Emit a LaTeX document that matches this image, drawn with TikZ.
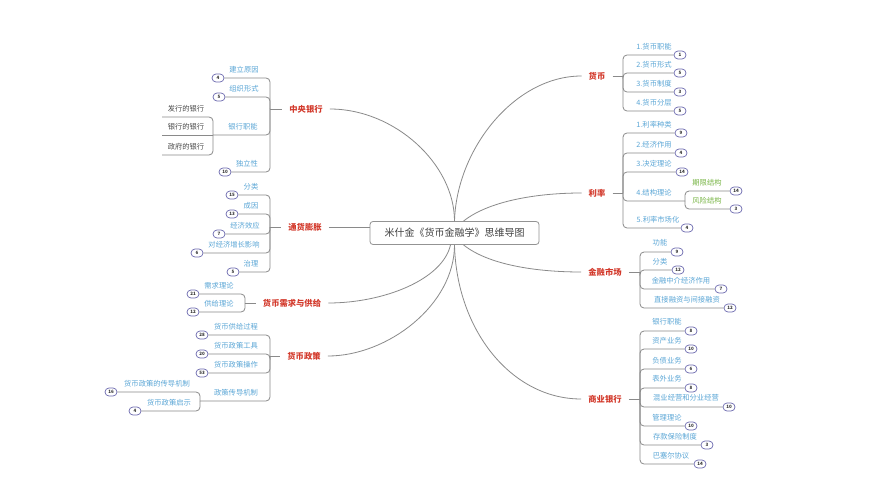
\documentclass[tikz,border=0pt]{standalone}
\usepackage{fontspec}
\setmainfont{Noto Sans CJK SC}
\usepackage{xcolor}
\usepackage{tikz}
\usetikzlibrary{positioning, calc}

\definecolor{topicred}{HTML}{D33A2C}
\definecolor{leafblue}{HTML}{5AA6D6}
\definecolor{leafgreen}{HTML}{78B545}
\definecolor{linegray}{HTML}{8A8A8A}
\definecolor{badgeline}{HTML}{6A68AE}

\begin{document}
\begin{tikzpicture}[
        x=1pt, y=-1pt,
        rootbox/.style={rectangle, rounded corners=3pt, draw=gray!85, line width=0.8pt, minimum width=169pt, minimum height=23pt, fill=white, font=\fontsize{10}{12}\selectfont, text=black!75},
        topic/.style={font=\fontsize{8.3}{10}\selectfont\bfseries, text=topicred, inner xsep=7pt, inner ysep=2pt},
        leaf/.style={font=\fontsize{7.3}{9}\selectfont, text=leafblue, inner sep=1pt},
        subleaf/.style={leaf, text=black!70},
        greenleaf/.style={leaf, text=leafgreen},
        badge/.style={rectangle, rounded corners=4pt, draw=badgeline, line width=0.7pt, fill=white, minimum width=12pt, minimum height=8pt, inner sep=0pt, font=\fontsize{4.5}{5}\selectfont\bfseries, text=black!80},
        trunk/.style={draw=linegray, line width=0.8pt},
        branch/.style={draw=linegray, line width=0.8pt, rounded corners=4pt}
    ]
        \useasboundingbox (0,0) rectangle (874,500);
        \fill [white] (0,0) rectangle (874,500);

        % ===== 中心主题 =====
        \node (root) [rootbox] at (454.5,233) {米什金《货币金融学》思维导图};
        \coordinate (rootTopR) at ($(root.north)+(9,0)$);
        \coordinate (rootBotR) at ($(root.south)+(9,0)$);
        \coordinate (rootBotL) at ($(root.south)+(-4,0)$);

        % ===== 一级主题 =====
        \node (cb) [topic] at (306,109) {中央银行};
        \node (infl) [topic] at (305,227) {通货膨胀};
        \node (mds) [topic] at (292,303) {货币需求与供给};
        \node (mp) [topic] at (304,356) {货币政策};
        \node (money) [topic] at (597,76) {货币};
        \node (rate) [topic] at (597,193) {利率};
        \node (fm) [topic] at (605,272) {金融市场};
        \node (bank) [topic] at (605,399) {商业银行};

        % 主干曲线
        \draw [trunk] (root.north) .. controls +(0,-57) and +(65,0) .. (cb.east);
        \draw [trunk] (infl.east) -- (infl.east -| root.west);
        \draw [trunk] (rootBotL) .. controls +(-8,35) and +(55,0) .. (mds.east);
        \draw [trunk] (root.south) .. controls +(0,60) and +(60,0) .. (mp.east);
        \draw [trunk] (root.north) .. controls +(2,-72) and +(-67,0) .. (money.west);
        \draw [trunk] (rootTopR) .. controls +(25,-20) and +(-45,0) .. (rate.west);
        \draw [trunk] (rootBotR) .. controls +(25,20) and +(-45,0) .. (fm.west);
        \draw [trunk] (root.south) .. controls +(2,85) and +(-70,0) .. (bank.west);

        % ===== 中央银行 =====
        \coordinate (cbHub) at (270,109);
        \draw [branch] (cbHub) -- (cb.west);
        \node (cbReason) [leaf] at (244,70) {建立原因};
        \node (cbReasonNum) [badge] at (218,78) {4};
        \node (cbForm) [leaf] at (244,89) {组织形式};
        \node (cbFormNum) [badge] at (219,97) {5};
        \node (cbRole) [leaf] at (243,127) {银行职能};
        \node (cbIndep) [leaf] at (247,164) {独立性};
        \node (cbIndepNum) [badge] at (225,172) {10};
        \coordinate (cbRoleHub) at (213,135);
        \draw [branch] (cbHub) |- (cbReasonNum);
        \draw [branch] (cbHub) |- (cbFormNum);
        \draw [branch] (cbHub) |- (cbRoleHub);
        \draw [branch] (cbHub) |- (cbIndepNum);
        % 银行职能
        \node (cbIssue) [subleaf] at (186,109) {发行的银行};
        \node (cbBanks) [subleaf] at (186,127) {银行的银行};
        \node (cbGov) [subleaf] at (186,147) {政府的银行};
        \coordinate (cbIssueEnd) at (162,117);
        \coordinate (cbBanksEnd) at (162,135);
        \coordinate (cbGovEnd) at (162,155);
        \draw [branch] (cbRoleHub) |- (cbIssueEnd);
        \draw [branch] (cbRoleHub) -- (cbBanksEnd);
        \draw [branch] (cbRoleHub) |- (cbGovEnd);

        % ===== 通货膨胀 =====
        \coordinate (inflHub) at (270,227);
        \draw [branch] (inflHub) -- (infl.west);
        \node (inflType) [leaf] at (251,187) {分类};
        \node (inflTypeNum) [badge] at (232,195) {15};
        \node (inflCause) [leaf] at (251,206) {成因};
        \node (inflCauseNum) [badge] at (232,214) {13};
        \node (inflEffect) [leaf] at (245,226) {经济效应};
        \node (inflEffectNum) [badge] at (219,234) {7};
        \node (inflGrowth) [leaf] at (234,245) {对经济增长影响};
        \node (inflGrowthNum) [badge] at (197,253) {6};
        \node (inflCure) [leaf] at (251,264) {治理};
        \node (inflCureNum) [badge] at (233,272) {5};
        \draw [branch] (inflHub) |- (inflTypeNum);
        \draw [branch] (inflHub) |- (inflCauseNum);
        \draw [branch] (inflHub) |- (inflEffectNum);
        \draw [branch] (inflHub) |- (inflGrowthNum);
        \draw [branch] (inflHub) |- (inflCureNum);

        % ===== 货币需求与供给 =====
        \coordinate (mdsHub) at (245,303);
        \draw [branch] (mdsHub) -- (mds.west);
        \node (mdsDemand) [leaf] at (219,286) {需求理论};
        \node (mdsDemandNum) [badge] at (193,294) {21};
        \node (mdsSupply) [leaf] at (219,304) {供给理论};
        \node (mdsSupplyNum) [badge] at (193,312) {12};
        \draw [branch] (mdsHub) |- (mdsDemandNum);
        \draw [branch] (mdsHub) |- (mdsSupplyNum);

        % ===== 货币政策 =====
        \coordinate (mpHub) at (270,356);
        \draw [branch] (mpHub) -- (mp.west);
        \node (mpSupply) [leaf] at (236,327) {货币供给过程};
        \node (mpSupplyNum) [badge] at (202,335) {28};
        \node (mpTool) [leaf] at (236,346) {货币政策工具};
        \node (mpToolNum) [badge] at (202,354) {20};
        \node (mpOper) [leaf] at (236,365) {货币政策操作};
        \node (mpOperNum) [badge] at (202,373) {53};
        \node (mpTrans) [leaf] at (236,393) {政策传导机制};
        \coordinate (mpTransHub) at (200,401);
        \draw [branch] (mpHub) |- (mpSupplyNum);
        \draw [branch] (mpHub) |- (mpToolNum);
        \draw [branch] (mpHub) |- (mpOperNum);
        \draw [branch] (mpHub) |- (mpTransHub);
        % 政策传导机制
        \node (mpChannel) [leaf] at (157,384) {货币政策的传导机制};
        \node (mpChannelNum) [badge] at (111,392) {16};
        \node (mpLesson) [leaf] at (169,403) {货币政策启示};
        \node (mpLessonNum) [badge] at (135,411) {4};
        \draw [branch] (mpTransHub) |- (mpChannelNum);
        \draw [branch] (mpTransHub) |- (mpLessonNum);

        % ===== 货币 =====
        \coordinate (moneyHub) at (623,76);
        \draw [branch] (money.east) -- (moneyHub);
        \node (moneyFunc) [leaf] at (654,47) {1.货币职能};
        \node (moneyFuncNum) [badge] at (680,55) {1};
        \node (moneyForm) [leaf] at (654,65) {2.货币形式};
        \node (moneyFormNum) [badge] at (680,73) {5};
        \node (moneySys) [leaf] at (654,84) {3.货币制度};
        \node (moneySysNum) [badge] at (680,92) {3};
        \node (moneyLayer) [leaf] at (654,103) {4.货币分层};
        \node (moneyLayerNum) [badge] at (680,111) {5};
        \draw [branch] (moneyHub) |- (moneyFuncNum);
        \draw [branch] (moneyHub) |- (moneyFormNum);
        \draw [branch] (moneyHub) |- (moneySysNum);
        \draw [branch] (moneyHub) |- (moneyLayerNum);

        % ===== 利率 =====
        \coordinate (rateHub) at (623,193);
        \draw [branch] (rate.east) -- (rateHub);
        \node (rateKind) [leaf] at (654,125) {1.利率种类};
        \node (rateKindNum) [badge] at (681,133) {9};
        \node (rateRole) [leaf] at (654,145) {2.经济作用};
        \node (rateRoleNum) [badge] at (681,153) {4};
        \node (rateTheory) [leaf] at (654,164) {3.决定理论};
        \node (rateTheoryNum) [badge] at (682,172) {14};
        \node (rateStruct) [leaf] at (654,193) {4.结构理论};
        \coordinate (rateStructHub) at (685,201);
        \node (rateMarket) [leaf] at (658,220) {5.利率市场化};
        \node (rateMarketNum) [badge] at (687,228) {4};
        \draw [branch] (rateHub) |- (rateKindNum);
        \draw [branch] (rateHub) |- (rateRoleNum);
        \draw [branch] (rateHub) |- (rateTheoryNum);
        \draw [branch] (rateHub) |- (rateStructHub);
        \draw [branch] (rateHub) |- (rateMarketNum);
        % 结构理论
        \node (rateTerm) [greenleaf] at (707,183) {期限结构};
        \node (rateTermNum) [badge] at (736,191) {14};
        \node (rateRisk) [greenleaf] at (707,201) {风险结构};
        \node (rateRiskNum) [badge] at (736,209) {3};
        \draw [branch] (rateStructHub) |- (rateTermNum);
        \draw [branch] (rateStructHub) |- (rateRiskNum);

        % ===== 金融市场 =====
        \coordinate (fmHub) at (640,272);
        \draw [branch] (fm.east) -- (fmHub);
        \node (fmFunc) [leaf] at (660,243) {功能};
        \node (fmFuncNum) [badge] at (677,252) {9};
        \node (fmType) [leaf] at (660,262) {分类};
        \node (fmTypeNum) [badge] at (678,270) {12};
        \node (fmInter) [leaf] at (681,281) {金融中介经济作用};
        \node (fmInterNum) [badge] at (721,289) {7};
        \node (fmDirect) [leaf] at (687,300) {直接融资与间接融资};
        \node (fmDirectNum) [badge] at (730,308) {12};
        \draw [branch] (fmHub) |- (fmFuncNum);
        \draw [branch] (fmHub) |- (fmTypeNum);
        \draw [branch] (fmHub) |- (fmInterNum);
        \draw [branch] (fmHub) |- (fmDirectNum);

        % ===== 商业银行 =====
        \coordinate (bankHub) at (640,399);
        \draw [branch] (bank.east) -- (bankHub);
        \node (bankRole) [leaf] at (667,322) {银行职能};
        \node (bankRoleNum) [badge] at (691,331) {8};
        \node (bankAsset) [leaf] at (667,341) {资产业务};
        \node (bankAssetNum) [badge] at (691,349) {10};
        \node (bankDebt) [leaf] at (667,361) {负债业务};
        \node (bankDebtNum) [badge] at (691,369) {6};
        \node (bankOff) [leaf] at (667,379) {表外业务};
        \node (bankOffNum) [badge] at (691,388) {8};
        \node (bankMixed) [leaf] at (686,398) {混业经营和分业经营};
        \node (bankMixedNum) [badge] at (729,407) {10};
        \node (bankMgmt) [leaf] at (667,418) {管理理论};
        \node (bankMgmtNum) [badge] at (691,426) {10};
        \node (bankInsur) [leaf] at (675,437) {存款保险制度};
        \node (bankInsurNum) [badge] at (707,445) {3};
        \node (bankBasel) [leaf] at (671,456) {巴塞尔协议};
        \node (bankBaselNum) [badge] at (700,464) {14};
        \draw [branch] (bankHub) |- (bankRoleNum);
        \draw [branch] (bankHub) |- (bankAssetNum);
        \draw [branch] (bankHub) |- (bankDebtNum);
        \draw [branch] (bankHub) |- (bankOffNum);
        \draw [branch] (bankHub) |- (bankMixedNum);
        \draw [branch] (bankHub) |- (bankMgmtNum);
        \draw [branch] (bankHub) |- (bankInsurNum);
        \draw [branch] (bankHub) |- (bankBaselNum);

    \end{tikzpicture}
\end{document}
